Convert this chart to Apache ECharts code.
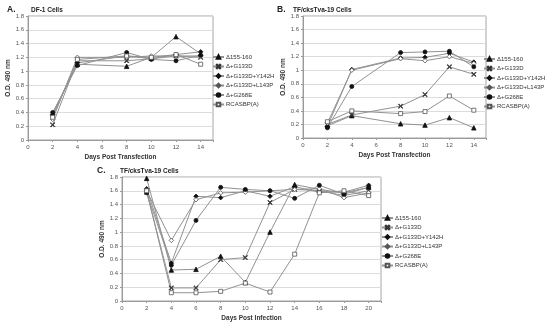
<!DOCTYPE html>
<html><head><meta charset="utf-8">
<script src="https://cdn.jsdelivr.net/npm/echarts@6/dist/echarts.min.js"></script>
<style>html,body{margin:0;padding:0;background:#fff}#c{width:550px;height:329px}</style>
</head><body><div id="c"></div>
<script>
const seriesNames = ['Δ155-160','Δ+G133D','Δ+G133D+Y142H','Δ+G133D+L143P','Δ+G268E','RCASBP(A)'];
const yTicks = [0,0.2,0.4,0.6,0.8,1,1.2,1.4,1.6,1.8];

const daysA = [2,4,8,10,12,14];
const a155   = [0.38,1.10,1.07,1.20,1.50,1.25];
const aG133D = [0.22,1.15,1.15,1.18,1.22,1.20];
const aY142H = [0.37,1.12,1.22,1.18,1.24,1.28];
const aL143P = [0.30,1.20,1.20,1.22,1.22,1.22];
const aG268E = [0.40,1.08,1.27,1.17,1.15,1.23];
const aRCAS  = [0.33,1.17,1.22,1.20,1.24,1.10];

const daysB = [2,4,8,10,12,14];
const b155   = [0.18,0.33,0.21,0.19,0.30,0.15];
const bG133D = [0.20,0.34,0.47,0.64,1.05,0.94];
const bY142H = [0.17,1.01,1.18,1.19,1.25,1.12];
const bL143P = [0.22,1.00,1.17,1.14,1.20,1.10];
const bG268E = [0.15,0.76,1.26,1.27,1.28,1.05];
const bRCAS  = [0.24,0.40,0.36,0.39,0.62,0.41];

const daysC = [2,4,6,8,10,12,14,16,18,20];
const c155   = [1.78,0.45,0.46,0.65,0.27,1.00,1.69,1.62,1.57,1.65];
const cG133D = [1.58,0.19,0.19,0.60,0.63,1.43,1.62,1.60,1.53,1.60];
const cY142H = [1.63,0.55,1.52,1.50,1.60,1.52,1.66,1.58,1.58,1.68];
const cL143P = [1.60,0.88,1.47,1.57,1.58,1.60,1.62,1.63,1.50,1.57];
const cG268E = [1.57,0.52,1.17,1.65,1.62,1.60,1.49,1.68,1.55,1.65];
const cRCAS  = [1.60,0.12,0.12,0.14,0.26,0.13,0.68,1.57,1.60,1.53];

const FONT = 'Liberation Sans';
const crossPath = 'path://M0,1L1,0L5,4L9,0L10,1L6,5L10,9L9,10L5,6L1,10L0,9L4,5Z';
const markers = [
  {symbol:'triangle', size:4.5, fill:'#111', border:'#111'},
  {symbol:crossPath, size:4.5, fill:'#333', border:'#333'},
  {symbol:'diamond', size:4.5, fill:'#111', border:'#111'},
  {symbol:'diamond', size:4.5, fill:'#fff', border:'#555'},
  {symbol:'circle', size:4, fill:'#111', border:'#111'},
  {symbol:'rect', size:4, fill:'#fff', border:'#555'}
];

function mk(idx, days, vals, k){
  const m = markers[k];
  return {
    type:'line', name:seriesNames[k], xAxisIndex:idx, yAxisIndex:idx,
    data: days.map((d,i)=>[d, vals[i]]),
    symbol:m.symbol, symbolSize:m.size, showAllSymbol:true,
    lineStyle:{color:'#929292', width:1},
    itemStyle:{color:m.fill, borderColor:m.border, borderWidth:0.8},
    emphasis:{disabled:true}, animation:false
  };
}

const grids = [
  {left:28, right:337, top:16, bottom:189},
  {left:303, right:64, top:16, bottom:191},
  {left:122, right:169, top:177, bottom:28}
];
const xMax = [15,15,21];
const xNames = ['Days Post Transfection','Days Post Transfection','Days Post Infection'];

const xAxes = grids.map((g,i)=>({
  type:'value', gridIndex:i, min:0, max:xMax[i], interval:2,
  name:xNames[i], nameLocation:'middle', nameGap:14,
  nameTextStyle:{fontFamily:FONT, fontSize:6.5, fontWeight:'bold', color:'#333'},
  axisLine:{lineStyle:{color:'#9a9a9a', width:1}},
  axisTick:{show:true, length:2, lineStyle:{color:'#9a9a9a'}},
  axisLabel:{fontFamily:FONT, fontSize:6, color:'#555', margin:4,
    formatter: v => (v % 2 === 0 ? String(v) : '')},
  splitLine:{show:false}
}));
const yAxes = grids.map((g,i)=>({
  type:'value', gridIndex:i, min:0, max:1.8, interval:0.2,
  name:'O.D. 490 nm', nameLocation:'middle', nameGap:16,
  nameTextStyle:{fontFamily:FONT, fontSize:6.5, fontWeight:'bold', color:'#333'},
  axisLine:{show:true, lineStyle:{color:'#9a9a9a', width:1}},
  axisTick:{show:true, length:2, lineStyle:{color:'#9a9a9a'}},
  axisLabel:{fontFamily:FONT, fontSize:6, color:'#555', margin:4,
    formatter: v => { const t = yTicks.find(x=>Math.abs(x-v)<1e-6); return t===undefined? '' : String(t); }},
  splitLine:{show:true, lineStyle:{color:'#dcdcdc', width:1}}
}));

const series = [];
[[a155,aG133D,aY142H,aL143P,aG268E,aRCAS],[b155,bG133D,bY142H,bL143P,bG268E,bRCAS],[c155,cG133D,cY142H,cL143P,cG268E,cRCAS]]
  .forEach((set,gi)=>{
    const days = [daysA,daysB,daysC][gi];
    set.forEach((vals,k)=>series.push(mk(gi,days,vals,k)));
  });

const legendBase = {
  orient:'vertical', itemWidth:11, itemHeight:4.5, itemGap:3.5,
  textStyle:{fontFamily:FONT, fontSize:6, color:'#333', padding:[0,0,0,-3]},
  data:seriesNames, selectedMode:false, padding:0
};
const legends = [
  Object.assign({}, legendBase, {left:212, top:54}),
  Object.assign({}, legendBase, {left:483, top:56}),
  Object.assign({}, legendBase, {left:381, top:215})
];

const titleStyle = {fontFamily:FONT, fontSize:6.5, fontWeight:'bold', color:'#222'};
const letterStyle = {fontFamily:FONT, fontSize:8.5, fontWeight:'bold', color:'#222'};
const titles = [
  {text:'A.', left:7, top:5, textStyle:letterStyle, padding:0},
  {text:'DF-1 Cells', left:31, top:7, textStyle:titleStyle, padding:0},
  {text:'B.', left:277, top:5, textStyle:letterStyle, padding:0},
  {text:'TF/cksTva-19 Cells', left:293, top:7, textStyle:titleStyle, padding:0},
  {text:'C.', left:97, top:166, textStyle:letterStyle, padding:0},
  {text:'TF/cksTva-19 Cells', left:120, top:168, textStyle:titleStyle, padding:0}
];

const chart = echarts.init(document.getElementById('c'), null, {renderer:'canvas'});
chart.setOption({
  animation:false,
  backgroundColor:'#fff',
  title:titles,
  grid:grids.map(g=>Object.assign({show:true, borderColor:'#a6a6a6', borderWidth:1, backgroundColor:'#fff'}, g)),
  xAxis:xAxes, yAxis:yAxes, legend:legends, series:series
});
</script></body></html>
